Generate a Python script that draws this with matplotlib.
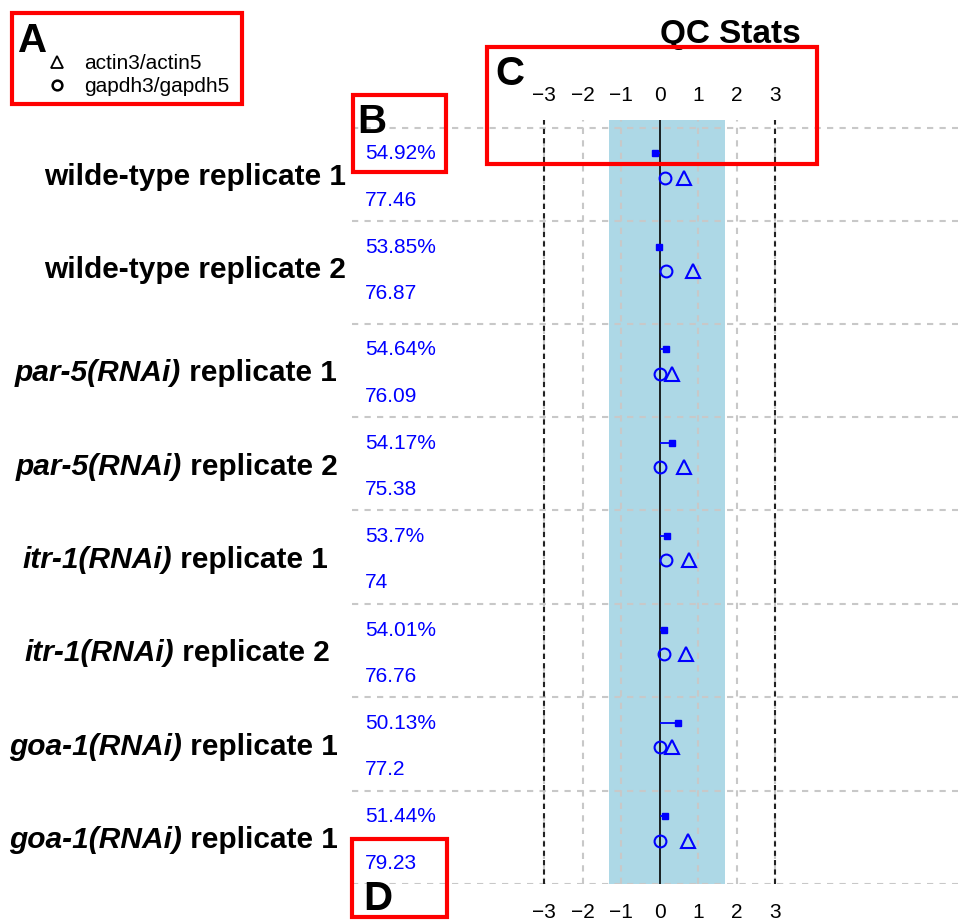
import numpy as np
import matplotlib
matplotlib.use('Agg')
import matplotlib.pyplot as plt
from matplotlib.lines import Line2D
from matplotlib.patches import Rectangle

plt.rcParams['font.family'] = ['Liberation Sans', 'DejaVu Sans']

# samples, top to bottom
gene_part = ['', '', 'par-5(RNAi)', 'par-5(RNAi)', 'itr-1(RNAi)', 'itr-1(RNAi)',
             'goa-1(RNAi)', 'goa-1(RNAi)']
rest_part = ['wilde-type replicate 1', 'wilde-type replicate 2', 'replicate 1', 'replicate 2',
             'replicate 1', 'replicate 2', 'replicate 1', 'replicate 1']
pct_mapped = [54.92, 53.85, 54.64, 54.17, 53.7, 54.01, 50.13, 51.44]
qc_score = [77.46, 76.87, 76.09, 75.38, 74, 76.76, 77.2, 79.23]

# log ratios per sample
shift = [-0.11, -0.02, 0.17, 0.33, 0.19, 0.11, 0.48, 0.13]
gapdh_ratio = [0.14, 0.16, 0.0, 0.0, 0.16, 0.10, 0.02, 0.0]
actin_ratio = [0.63, 0.86, 0.33, 0.62, 0.77, 0.69, 0.33, 0.73]
ok_range = (-1.32, 1.70)
ticks = [-3, -2, -1, 0, 1, 2, 3]

W, H = 958, 924
fig = plt.figure(figsize=(W / 100, H / 100), dpi=100)

# plot region in pixels
L, R, T, B = 352, 958, 120, 884
ax = fig.add_axes([L / W, 1 - B / H, (R - L) / W, (B - T) / H])
x0, unit = 659.7, 38.5
def px_x(p):
    return (p - x0) / unit

n = len(pct_mapped)
row_top = np.arange(n) + np.where(np.arange(n) >= 2, 0.1, 0.0)
y_end = row_top[-1] + 1
ax.set_xlim(px_x(L), px_x(R))
ax.set_ylim(y_end, -0.082)

ax.axvspan(*ok_range, color='lightblue', lw=0, zorder=0)
for t in ticks:
    if t != 0:
        ax.axvline(t, color='#c8c8c8', lw=1.5, dashes=(3, 3), zorder=1)
for t in (ticks[0], ticks[-1]):
    ax.axvline(t, color='#222222', lw=1.5, dashes=(2.5, 2), zorder=2)
for y in list(row_top) + [y_end]:
    ax.axhline(y, color='#c8c8c8', lw=1.5, dashes=(3, 3), zorder=1)
ax.axvline(0, color='black', lw=1.2, zorder=3)

ax.hlines(row_top + 0.275, 0, shift, color='blue', lw=1.3, zorder=4)
ax.plot(shift, row_top + 0.275, 's', color='blue', ms=5, zorder=5)
ax.plot(gapdh_ratio, row_top + 0.535, 'o', mfc='none', mec='blue', mew=1.5, ms=8.5, zorder=5)
ax.plot(actin_ratio, row_top + 0.535, '^', mfc='none', mec='blue', mew=1.5, ms=10, zorder=5)

for i in range(n):
    ax.text(px_x(365), row_top[i] + 0.34, f'{pct_mapped[i]:g}%', color='blue',
            fontsize=15, va='baseline', ha='left', clip_on=False)
    ax.text(px_x(365), row_top[i] + 0.835, f'{qc_score[i]:g}', color='blue',
            fontsize=15, va='baseline', ha='left', clip_on=False)

# sample names: italic gene part in front of the plain part
label_right = [346, 346, 337, 338, 328, 330, 338, 338]
for i in range(n):
    rest = rest_part[i] if not gene_part[i] else ' ' + rest_part[i]
    t2 = ax.text(px_x(label_right[i]), row_top[i] + 0.615, rest, fontsize=21.5,
                 weight='bold', ha='right', va='baseline', clip_on=False)
    if gene_part[i]:
        ax.annotate(gene_part[i], xy=(0, 0), xycoords=t2, fontsize=21.5, weight='bold',
                    style='italic', ha='right', va='bottom', annotation_clip=False)

ax.set_xticks(ticks)
ax.set_yticks([])
ax.tick_params(axis='x', length=0, pad=14, labelsize=15)
top = ax.secondary_xaxis('top')
top.set_xticks(ticks)
top.tick_params(axis='x', length=0, pad=11, labelsize=15)
for s in list(ax.spines.values()) + list(top.spines.values()):
    s.set_visible(False)

fig.text(730 / W, 1 - 43 / H, 'QC Stats', ha='center', va='baseline', fontsize=24,
         weight='bold')

handles = [Line2D([], [], ls='', marker='^', mfc='none', mec='black', mew=1.3, ms=9),
           Line2D([], [], ls='', marker='o', mfc='none', mec='black', mew=1.8, ms=7)]
fig.legend(handles, ['actin3/actin5', 'gapdh3/gapdh5'], loc='upper left',
           bbox_to_anchor=(47 / W, 1 - 54 / H), frameon=False, fontsize=15,
           handlelength=1.0, handletextpad=0.8, labelspacing=0.2, borderpad=0,
           borderaxespad=0)

# panel callouts
boxes = {'A': (12, 13, 242, 104), 'B': (353, 95, 446, 172),
         'C': (487, 47, 817, 164), 'D': (352, 839, 447, 917)}
letters = {'A': (18, 52), 'B': (357, 133), 'C': (495, 85), 'D': (363, 910)}
for k, (bx0, by0, bx1, by1) in boxes.items():
    fig.add_artist(Rectangle((bx0 / W, 1 - by1 / H), (bx1 - bx0) / W, (by1 - by0) / H,
                             transform=fig.transFigure, fill=False, ec='red', lw=3,
                             zorder=10))
    lx, ly = letters[k]
    fig.text(lx / W, 1 - ly / H, k, fontsize=29, weight='bold', ha='left',
             va='baseline', zorder=11)

fig.savefig('out.png', dpi=100, facecolor='white')
